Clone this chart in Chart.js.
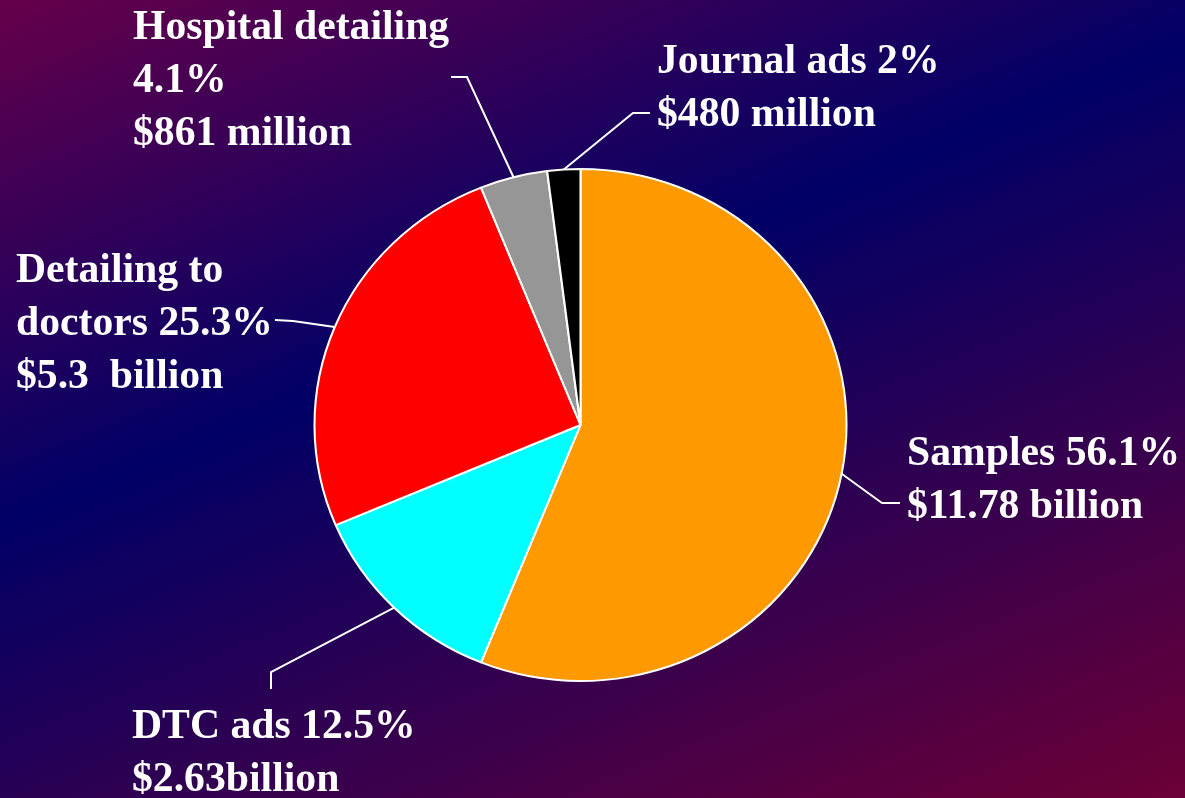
<!DOCTYPE html>
<html>
<head>
<meta charset="utf-8">
<script src="https://cdn.jsdelivr.net/npm/chart.js@4"></script>
<style>
  html, body { margin: 0; padding: 0; }
  body {
    width: 1185px; height: 798px; overflow: hidden;
    background: linear-gradient(158deg, #66004a 0%, #000066 41%, #6c0036 100%);
  }
  #chart { display: block; }
</style>
</head>
<body>
<canvas id="chart" width="1185" height="798"></canvas>
<script>
// slices, clockwise from 12 o'clock
const categories = ["Samples", "DTC ads", "Detailing to doctors", "Hospital detailing", "Journal ads"];
const shares = [56.1, 12.5, 25.3, 4.1, 2];
const sliceColors = ["#ff9900", "#00ffff", "#ff0000", "#969696", "#000000"];

// label text as it is broken on the slide
const labelLines = [
  ["Samples 56.1%", "$11.78 billion"],
  ["DTC ads 12.5%", "$2.63billion"],
  ["Detailing to", "doctors 25.3%", "$5.3  billion"],
  ["Hospital detailing", "4.1%", "$861 million"],
  ["Journal ads 2%", "$480 million"]
];

// where each label sits and how its leader line bends (elbow, end)
const labelLayout = [
  { x: 907, y: 465, elbow: [882, 503], end: [900, 503] },
  { x: 132, y: 738, elbow: [271, 672], end: [271, 689] },
  { x: 16,  y: 282, elbow: [293, 321], end: [275, 320] },
  { x: 133, y: 39,  elbow: [467, 77],  end: [451, 77] },
  { x: 657, y: 73,  elbow: [633, 113], end: [650, 113] }
];

const stretchX = 266 / 256; // the slide's pie is a touch wider than tall

const ellipse = {
  id: "ellipse",
  beforeDatasetsDraw(chart) {
    const arc = chart.getDatasetMeta(0).data[0];
    const ctx = chart.ctx;
    ctx.save();
    ctx.translate(arc.x, 0);
    ctx.scale(stretchX, 1);
    ctx.translate(-arc.x, 0);
  },
  afterDatasetsDraw(chart) {
    chart.ctx.restore();
  }
};

const callouts = {
  id: "callouts",
  afterDraw(chart) {
    const ctx = chart.ctx;
    const arcs = chart.getDatasetMeta(0).data;
    ctx.save();
    ctx.strokeStyle = "#ffffff";
    ctx.lineWidth = 2;
    arcs.forEach((arc, i) => {
      const p = arc.getProps(["x", "y", "startAngle", "endAngle", "outerRadius"], true);
      const mid = (p.startAngle + p.endAngle) / 2;
      const ex = p.x + Math.cos(mid) * p.outerRadius * stretchX;
      const ey = p.y + Math.sin(mid) * p.outerRadius;
      const lay = labelLayout[i];
      ctx.beginPath();
      ctx.moveTo(ex, ey);
      ctx.lineTo(lay.elbow[0], lay.elbow[1]);
      ctx.lineTo(lay.end[0], lay.end[1]);
      ctx.stroke();
    });
    ctx.fillStyle = "#ffffff";
    ctx.font = "bold 41.7px 'Liberation Serif', 'Times New Roman', serif";
    ctx.textBaseline = "alphabetic";
    ctx.textAlign = "left";
    labelLines.forEach((lines, i) => {
      const lay = labelLayout[i];
      lines.forEach((t, j) => ctx.fillText(t, lay.x, lay.y + j * 53));
    });
    ctx.restore();
  }
};

const config = {
  type: "pie",
  data: {
    labels: categories,
    datasets: [{
      data: shares,
      backgroundColor: sliceColors,
      borderColor: "#ffffff",
      borderWidth: 2
    }]
  },
  options: {
    responsive: false,
    animation: false,
    events: [],
    radius: 256,
    layout: { padding: { left: 0, right: 24, top: 52, bottom: 0 } },
    plugins: {
      legend: { display: false },
      tooltip: { enabled: false }
    }
  },
  plugins: [ellipse, callouts]
};

var myChart = new Chart(document.getElementById("chart"), config);
</script>
</body>
</html>
